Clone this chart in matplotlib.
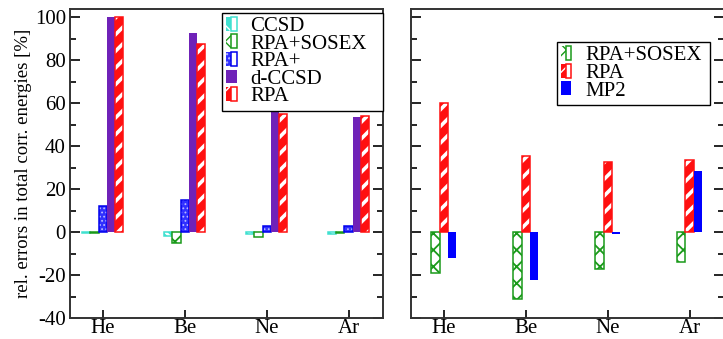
import numpy as np
import matplotlib
matplotlib.use('Agg')
import matplotlib.pyplot as plt
from matplotlib.legend_handler import HandlerTuple
from matplotlib.ticker import MultipleLocator

plt.rcParams['font.family'] = ['Liberation Serif', 'DejaVu Serif']
plt.rcParams['axes.unicode_minus'] = False

atoms = ['He', 'Be', 'Ne', 'Ar']

# left panel
ccsd = [-0.3, -2.0, -1.0, -0.7]
rpa_sosex = [-0.3, -5.0, -2.3, -0.5]
rpa_plus = [12.0, 15.0, 3.0, 3.0]
d_ccsd = [100.0, 92.5, 56.0, 53.3]
rpa = [100.0, 87.5, 55.0, 53.8]

# right panel
sosex_r = [-19.2, -31.0, -17.0, -13.9]
rpa_r = [60.0, 35.4, 32.6, 33.5]
mp2_r = [-12.0, -22.4, -1.0, 28.3]

W = 0.1
x = np.arange(1, len(atoms) + 1)


def hbar(ax, pos, vals, face, hatch_col, hatch, edge, hlw):
    # filled bar with hatch in a second colour, outline drawn on top
    with plt.rc_context({'hatch.linewidth': hlw}):
        b1 = ax.bar(pos, vals, W, color=face, edgecolor=hatch_col, hatch=hatch, linewidth=0)
    b2 = ax.bar(pos, vals, W, facecolor='none', edgecolor=edge, linewidth=1.1)
    return (b1, b2)


def style(ax, labels=True):
    ax.set_xlim(0.6, 4.42)
    ax.set_ylim(-40, 104)
    ax.set_xticks(x)
    ax.set_xticklabels(atoms, fontsize=15)
    ax.yaxis.set_major_locator(MultipleLocator(20))
    ax.yaxis.set_minor_locator(MultipleLocator(10))
    ax.tick_params(axis='y', which='both', direction='in', right=True, labelsize=15)
    ax.tick_params(axis='y', which='major', length=7, width=1.2, pad=3)
    ax.tick_params(axis='y', which='minor', length=4, width=1.2)
    ax.tick_params(axis='x', direction='in', length=6, width=1.2, pad=1)
    if not labels:
        ax.set_yticklabels([])
    for s in ax.spines.values():
        s.set_linewidth(1.4)
        s.set_color('#333333')


leg_kw = dict(handler_map={tuple: HandlerTuple(ndivide=None, pad=0)},
              loc='upper right', mode='expand', fontsize=15,
              handlelength=0.5, handleheight=0.65, handletextpad=0.65,
              labelspacing=-0.08, borderpad=0.2, borderaxespad=0,
              fancybox=False, edgecolor='black', framealpha=1)

fig = plt.figure(figsize=(7.23, 3.39), dpi=100)
ax1 = fig.add_axes([70 / 723, 1 - 318 / 339, 313 / 723, 309.5 / 339])
ax2 = fig.add_axes([411 / 723, 1 - 318 / 339, 313 / 723, 309.5 / 339])

h_ccsd = hbar(ax1, x - 2 * W, ccsd, '#40e0d0', 'white', '\\\\', '#40e0d0', 2.0)
h_sosex = hbar(ax1, x - W, rpa_sosex, 'white', '#1a9a1a', 'xx', '#1a9a1a', 1.3)
h_rpap = hbar(ax1, x, rpa_plus, '#3030ff', '#b8b8ff', '....', '#0000ee', 0.8)
h_dccsd = ax1.bar(x + W, d_ccsd, W, color='#6f22b8', linewidth=0)
h_rpa = hbar(ax1, x + 2 * W, rpa, '#ff1010', 'white', '//', '#ff1010', 2.6)
style(ax1)
ax1.set_ylabel('rel. errors in total corr. energies [%]', fontsize=13.5, labelpad=2)
leg1 = ax1.legend([h_ccsd, h_sosex, h_rpap, h_dccsd, h_rpa],
                  ['CCSD', 'RPA+SOSEX', 'RPA+', 'd-CCSD', 'RPA'],
                  bbox_to_anchor=(0.486, 0.5, 0.514, 0.487), **leg_kw)
leg1.get_frame().set_linewidth(1.0)

h_sosex2 = hbar(ax2, x - W, sosex_r, 'white', '#1a9a1a', 'xx', '#1a9a1a', 1.3)
h_rpa2 = hbar(ax2, x, rpa_r, '#ff1010', 'white', '//', '#ff1010', 2.6)
h_mp2 = ax2.bar(x + W, mp2_r, W, color='#0000ff', linewidth=0)
style(ax2, labels=False)
leg2 = ax2.legend([h_sosex2, h_rpa2, h_mp2], ['RPA+SOSEX', 'RPA', 'MP2'],
                  bbox_to_anchor=(0.466, 0.5, 0.489, 0.392), **leg_kw)
leg2.get_frame().set_linewidth(1.0)

fig.savefig('out.png', dpi=100)
